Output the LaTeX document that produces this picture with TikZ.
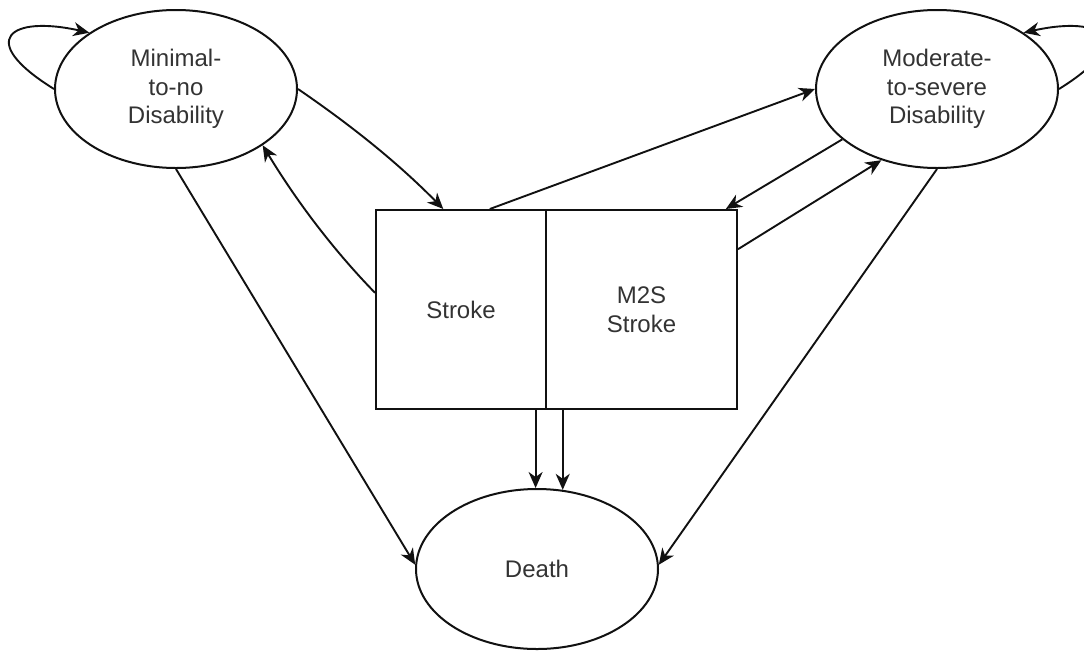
\documentclass[tikz,border=0pt]{standalone}
\usepackage{fontspec}
\setmainfont{Liberation Sans}
\usetikzlibrary{arrows.meta,shapes.geometric}
\definecolor{txt}{HTML}{333333}
\definecolor{ln}{HTML}{111111}
\begin{document}
\begin{tikzpicture}[x=1pt,y=-1pt,
  every node/.style={font=\fontsize{24}{28.5}\selectfont, text=txt, align=center, inner sep=0pt},
  state/.style={ellipse, draw=ln, line width=2pt, minimum width=242pt, minimum height=158pt},
  box/.style={rectangle, draw=ln, line width=2pt, minimum height=199pt},
  arr/.style={-{Stealth[length=16pt,width=14pt,inset=5pt]}, draw=ln, line width=1.9pt}]
\useasboundingbox (0,0) rectangle (1084,651);
\clip (0,0) rectangle (1084,651);
\node[state] (min) at (176,89) {Minimal-\\to-no\\Disability};
\node[state] (mod) at (937,89) {Moderate-\\to-severe\\Disability};
\node[state, minimum height=160pt] (death) at (537,569) {Death};
\node[box, minimum width=170pt] (stroke) at (461,309.5) {Stroke};
\node[box, minimum width=191pt] (m2s) at (641.5,309.5) {M2S\\Stroke};
% self loops
\draw[arr] (min.west) .. controls (-25,40) and (10,15) .. (min.147);
\draw[arr] (mod.east) .. controls (1138,40) and (1103,15) .. (mod.33);
% minimal <-> stroke
\draw[arr] (min.east) .. controls (355,128) and (400,165) .. (stroke.100.8);
\draw[arr] (stroke.169) .. controls (345,262) and (305,215) .. (min.-33);
% stroke/m2s <-> moderate
\draw[arr] (stroke.74.3) -- (mod.west);
\draw[arr] (mod.208) -- (m2s.50.7);
\draw[arr] (m2s.32.4) -- (mod.232);
% to death
\draw[arr] (min.south) -- (death.178);
\draw[arr] (mod.south) -- (death.2);
\draw[arr] (death.91.5 |- stroke.south) -- (death.91.5);
\draw[arr] (death.72.3 |- m2s.south) -- (death.72.3);
\end{tikzpicture}
\end{document}
